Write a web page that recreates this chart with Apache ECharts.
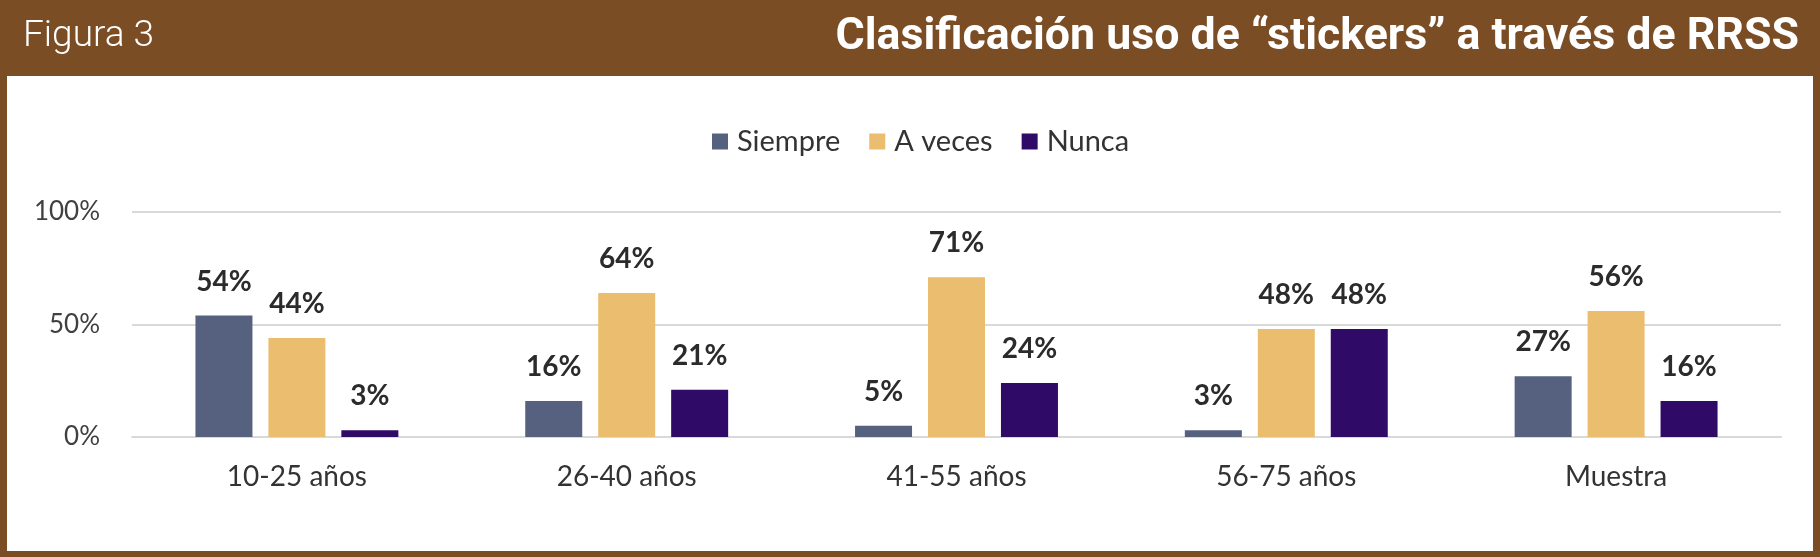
<!DOCTYPE html>
<html>
<head>
<meta charset="utf-8">
<script src="https://cdn.jsdelivr.net/npm/echarts@6/dist/echarts.min.js"></script>
<style>
html,body{margin:0;padding:0;background:#7B4D25;}
#c{width:1820px;height:557px;}
</style>
</head>
<body>
<div id="c"></div>
<script>
const categories = ['10-25 años', '26-40 años', '41-55 años', '56-75 años', 'Muestra'];
const seriesNames = ['Siempre', 'A veces', 'Nunca'];
const siempre = [54, 16, 5, 3, 27];
const aVeces = [44, 64, 71, 48, 56];
const nunca = [3, 21, 24, 48, 16];
const yTicks = [0, 50, 100];
const colors = ['#56617F', '#EBBD6E', '#2F0A67'];
const FONT = 'Lato, "Open Sans", sans-serif';

const chart = echarts.init(document.getElementById('c'), null, {renderer: 'canvas'});

function barSeries(name, data, color) {
  return {
    name: name,
    type: 'bar',
    data: data,
    barWidth: 57,
    barGap: '28%',
    itemStyle: {color: color},
    label: {
      show: true,
      position: 'top',
      distance: 20,
      formatter: '{c}%',
      fontFamily: FONT,
      fontWeight: 'bold',
      fontSize: 28,
      color: '#2b2b2b'
    }
  };
}

chart.setOption({
  backgroundColor: '#7B4D25',
  animation: false,
  graphic: [{
    type: 'rect',
    left: 7, top: 76,
    shape: {width: 1806, height: 475},
    style: {fill: '#ffffff'},
    z: -10
  }],
  title: [{
    text: 'Figura 3',
    left: 18, top: 13,
    textStyle: {color: '#ffffff', fontFamily: 'Roboto, sans-serif', fontWeight: 300, fontSize: 37}
  }, {
    text: 'Clasificación uso de “stickers” a través de RRSS',
    right: 16, top: 10,
    textStyle: {color: '#ffffff', fontFamily: 'Roboto, sans-serif', fontWeight: 'bold', fontSize: 44.7}
  }],
  legend: {
    data: seriesNames,
    left: 707, top: 122,
    itemWidth: 16, itemHeight: 16,
    itemGap: 29,
    icon: 'rect',
    textStyle: {fontFamily: FONT, fontSize: 29, color: '#333333', padding: [0, 0, 0, 4]}
  },
  grid: {left: 132, right: 39, top: 212, bottom: 120, containLabel: false},
  xAxis: {
    type: 'category',
    data: categories,
    axisLine: {show: true, lineStyle: {color: '#D9D9D9', width: 2}},
    axisTick: {show: false},
    axisLabel: {fontFamily: FONT, fontSize: 28, color: '#333333', margin: 26}
  },
  yAxis: {
    type: 'value',
    min: yTicks[0], max: yTicks[yTicks.length - 1], interval: 50,
    axisLine: {show: false},
    axisTick: {show: false},
    splitLine: {lineStyle: {color: '#D9D9D9', width: 2}},
    axisLabel: {fontFamily: FONT, fontSize: 26, color: '#404040', margin: 32, formatter: '{value}%'}
  },
  series: [
    barSeries(seriesNames[0], siempre, colors[0]),
    barSeries(seriesNames[1], aVeces, colors[1]),
    barSeries(seriesNames[2], nunca, colors[2])
  ]
});
</script>
</body>
</html>
